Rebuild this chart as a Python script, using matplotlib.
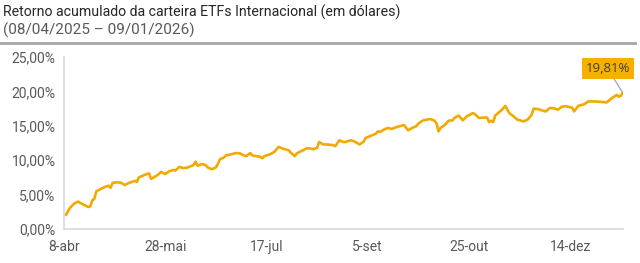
import matplotlib
matplotlib.use("Agg")
import matplotlib.pyplot as plt
import pandas as pd
from matplotlib.lines import Line2D

plt.rcParams['font.family'] = ['Roboto', 'DejaVu Sans']

# Retorno acumulado (%)
dates = [
    "2025-04-09", "2025-04-11", "2025-04-13", "2025-04-15", "2025-04-16", "2025-04-18",
    "2025-04-20", "2025-04-21", "2025-04-22", "2025-04-23", "2025-04-24", "2025-04-26",
    "2025-04-28", "2025-04-30", "2025-05-01", "2025-05-02", "2025-05-04", "2025-05-06",
    "2025-05-08", "2025-05-10", "2025-05-13", "2025-05-14", "2025-05-15", "2025-05-18",
    "2025-05-20", "2025-05-21", "2025-05-24", "2025-05-25", "2025-05-26", "2025-05-28",
    "2025-05-29", "2025-05-30", "2025-06-01", "2025-06-02", "2025-06-04", "2025-06-06",
    "2025-06-08", "2025-06-11", "2025-06-12", "2025-06-13", "2025-06-15", "2025-06-17",
    "2025-06-18", "2025-06-20", "2025-06-22", "2025-06-23", "2025-06-24", "2025-06-26",
    "2025-06-27", "2025-06-30", "2025-07-02", "2025-07-04", "2025-07-05", "2025-07-07",
    "2025-07-09", "2025-07-10", "2025-07-12", "2025-07-14", "2025-07-15", "2025-07-16",
    "2025-07-19", "2025-07-21", "2025-07-23", "2025-07-25", "2025-07-28", "2025-07-29",
    "2025-07-31", "2025-08-01", "2025-08-04", "2025-08-06", "2025-08-08", "2025-08-09",
    "2025-08-11", "2025-08-12", "2025-08-14", "2025-08-16", "2025-08-19", "2025-08-20",
    "2025-08-22", "2025-08-24", "2025-08-25", "2025-08-27", "2025-08-28", "2025-08-30",
    "2025-09-01", "2025-09-03", "2025-09-04", "2025-09-07", "2025-09-09", "2025-09-10",
    "2025-09-11", "2025-09-13", "2025-09-15", "2025-09-17", "2025-09-19", "2025-09-22",
    "2025-09-23", "2025-09-25", "2025-09-27", "2025-09-29", "2025-09-30", "2025-10-02",
    "2025-10-04", "2025-10-06", "2025-10-08", "2025-10-09", "2025-10-10", "2025-10-11",
    "2025-10-13", "2025-10-15", "2025-10-17", "2025-10-18", "2025-10-20", "2025-10-22",
    "2025-10-24", "2025-10-27", "2025-10-28", "2025-10-30", "2025-11-01", "2025-11-03",
    "2025-11-04", "2025-11-05", "2025-11-06", "2025-11-07", "2025-11-10", "2025-11-12",
    "2025-11-14", "2025-11-16", "2025-11-18", "2025-11-21", "2025-11-23", "2025-11-25",
    "2025-11-26", "2025-11-28", "2025-11-30", "2025-12-02", "2025-12-04", "2025-12-06",
    "2025-12-08", "2025-12-10", "2025-12-12", "2025-12-15", "2025-12-16", "2025-12-18",
    "2025-12-21", "2025-12-23", "2025-12-26", "2025-12-29", "2026-01-01", "2026-01-03",
    "2026-01-06", "2026-01-07", "2026-01-08", "2026-01-09",
]
returns = [
    2.1, 3.1, 3.7, 4.0, 3.8, 3.5,
    3.2, 3.3, 4.2, 4.4, 5.5, 5.8,
    6.1, 6.3, 6.0, 6.7, 6.8, 6.75,
    6.4, 6.7, 7.0, 6.85, 7.5, 7.9,
    8.1, 7.3, 7.8, 8.05, 8.3, 8.0,
    8.2, 8.4, 8.6, 8.5, 9.05, 8.85,
    8.95, 9.3, 9.8, 9.2, 9.45, 9.3,
    8.95, 8.7, 8.95, 9.45, 10.15, 10.4,
    10.7, 10.9, 11.05, 11.0, 10.8, 10.6,
    11.05, 10.7, 10.6, 10.5, 10.3, 10.6,
    10.9, 11.25, 11.95, 11.7, 11.45, 11.1,
    10.6, 11.0, 11.45, 11.75, 11.7, 11.6,
    11.8, 12.65, 12.3, 12.3, 12.2, 12.05,
    12.9, 12.65, 12.65, 12.85, 12.9, 12.65,
    12.3, 12.7, 13.25, 13.6, 13.85, 14.2,
    14.1, 14.45, 14.7, 14.55, 14.8, 15.05,
    15.1, 14.35, 14.7, 14.95, 15.3, 15.75,
    15.9, 16.0, 15.75, 15.4, 14.2, 14.7,
    15.1, 15.75, 15.8, 16.2, 16.5, 15.8,
    16.4, 16.85, 16.7, 16.15, 16.2, 16.2,
    15.55, 15.75, 15.55, 16.5, 17.25, 17.9,
    16.85, 16.4, 15.9, 15.65, 15.9, 16.6,
    17.5, 17.45, 17.25, 17.1, 17.6, 17.55,
    17.35, 17.8, 17.85, 17.65, 17.1, 17.9,
    18.15, 18.55, 18.55, 18.5, 18.4, 18.9,
    19.5, 19.25, 19.35, 19.81,
]

tick_dates = ["2025-04-08", "2025-05-28", "2025-07-17", "2025-09-05", "2025-10-25", "2025-12-14"]
tick_labels = ["8-abr", "28-mai", "17-jul", "5-set", "25-out", "14-dez"]
y_ticks = [0, 5, 10, 15, 20, 25]

x = pd.to_datetime(dates)

fig = plt.figure(figsize=(6.4, 2.63), dpi=100)
ax = fig.add_axes([0.1, 0.129, 0.873, 0.654])

ax.plot(x, returns, color="#F2A900", linewidth=1.9, solid_joinstyle="round")

ax.set_xlim(pd.Timestamp("2025-04-08"), pd.Timestamp("2026-01-09"))
ax.set_ylim(0, 25)
ax.set_yticks(y_ticks)
ax.set_yticklabels([f"{v:.2f}".replace(".", ",") + "%" for v in y_ticks])
ax.set_xticks(pd.to_datetime(tick_dates))
ax.set_xticklabels(tick_labels)

ax.tick_params(length=0, labelsize=10, colors="#595959", pad=6)
ax.tick_params(axis="x", pad=8)
for s in ["top", "right"]:
    ax.spines[s].set_visible(False)
for s in ["left", "bottom"]:
    ax.spines[s].set_color("#d9d9d9")
    ax.spines[s].set_linewidth(1.2)

# rótulo do último valor
ax.annotate("19,81%", xy=(x[-1], returns[-1]), xytext=(-15, 24),
            textcoords="offset pixels", ha="center", va="center",
            fontsize=9.5, color="#404040", family=["Open Sans", "DejaVu Sans"],
            bbox=dict(boxstyle="square,pad=0.3", fc="#F5B000", ec="none"),
            arrowprops=dict(arrowstyle="-", color="#a6a6a6", lw=0.9,
                            shrinkA=0, shrinkB=1), annotation_clip=False)

fig.text(0.004, 0.955, "Retorno acumulado da carteira ETFs Internacional (em dólares)",
         fontsize=10.2, color="#262626", va="center", ha="left")
fig.text(0.004, 0.885, "(08/04/2025 – 09/01/2026)",
         fontsize=11, color="#595959", va="center", ha="left")
fig.add_artist(Line2D([0.0, 0.992], [0.836, 0.836], transform=fig.transFigure,
                      color="#a6a6a6", linewidth=2))

fig.savefig("out.png", dpi=100)
